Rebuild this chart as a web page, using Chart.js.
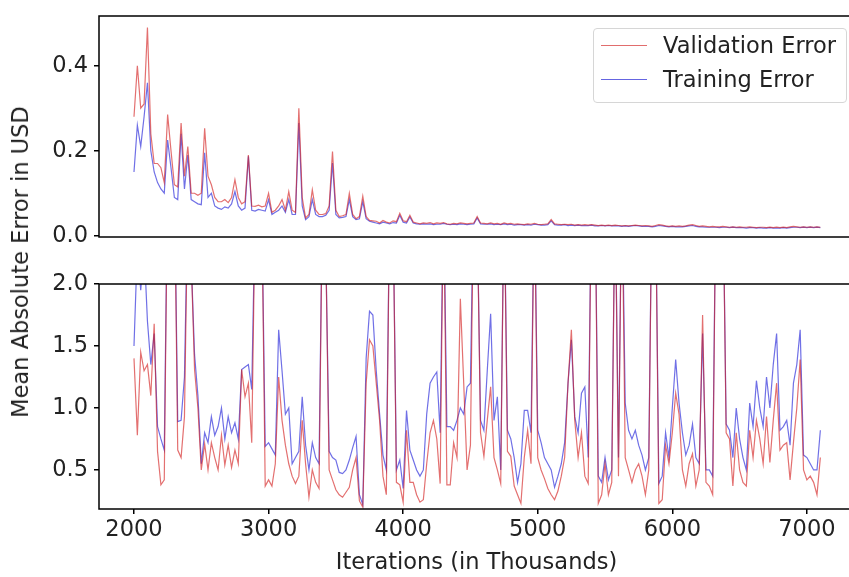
<!DOCTYPE html>
<html>
<head>
<meta charset="utf-8">
<script src="https://cdn.jsdelivr.net/npm/chart.js@4"></script>
<style>
  html, body { margin: 0; padding: 0; background: #fff; width: 849px; height: 577px; overflow: hidden; }
  #top-chart { position: absolute; left: 0; top: 0; }
  #bottom-chart { position: absolute; left: 0; top: 250px; }
  .ylabel {
    position: absolute; left: 20px; top: 262px;
    transform: translate(-50%, -50%) rotate(-90deg);
    font: 22.5px 'DejaVu Sans', sans-serif; color: #222; white-space: nowrap;
  }
  .legend {
    position: absolute; left: 593px; top: 28px; width: 254px; height: 75px;
    box-sizing: border-box; border: 1px solid #d6d6d6; border-radius: 4px;
    background: rgba(255, 255, 255, 0.85);
  }
  .legend .sw { position: absolute; left: 7px; width: 46px; height: 1.3px; }
  .legend .lt {
    position: absolute; left: 69px; font: 22.5px 'DejaVu Sans', sans-serif;
    line-height: 26px; color: #222; white-space: nowrap;
  }
</style>
</head>
<body>
<canvas id="top-chart" width="870" height="250"></canvas>
<canvas id="bottom-chart" width="870" height="327"></canvas>
<div class="ylabel">Mean Absolute Error in USD</div>
<div class="legend">
  <span class="sw" style="top:16px;background:rgba(215,60,60,0.75)"></span>
  <span class="lt" style="top:3px">Validation Error</span>
  <span class="sw" style="top:50px;background:rgba(50,50,215,0.75)"></span>
  <span class="lt" style="top:37px">Training Error</span>
</div>
<script>
// sampling grid (thousands of iterations)
const ITER_START = 2000;
const ITER_STEP = 25;

const X_TICKS = [2000, 3000, 4000, 5000, 6000, 7000];
const TOP_Y_TICKS = [0.0, 0.2, 0.4];
const BOTTOM_Y_TICKS = [0.5, 1.0, 1.5, 2.0];

// upper panel: full range
const topValidation = [
  0.280, 0.400, 0.300, 0.310, 0.490, 0.240, 0.170, 0.170, 0.160, 0.125,
  0.285, 0.200, 0.120, 0.115, 0.265, 0.140, 0.210, 0.100, 0.100, 0.095,
  0.100, 0.253, 0.140, 0.120, 0.090, 0.080, 0.080, 0.085, 0.078, 0.090,
  0.132, 0.090, 0.075, 0.080, 0.190, 0.070, 0.069, 0.072, 0.068, 0.070,
  0.100, 0.055, 0.060, 0.070, 0.085, 0.060, 0.104, 0.060, 0.055, 0.300,
  0.090, 0.042, 0.050, 0.108, 0.060, 0.050, 0.050, 0.052, 0.070, 0.198,
  0.060, 0.045, 0.047, 0.050, 0.100, 0.050, 0.040, 0.045, 0.093, 0.045,
  0.036, 0.035, 0.034, 0.030, 0.036, 0.032, 0.030, 0.035, 0.033, 0.053,
  0.035, 0.033, 0.048, 0.032, 0.030, 0.028, 0.030, 0.029, 0.031, 0.028,
  0.030, 0.029, 0.031, 0.028, 0.027, 0.029, 0.028, 0.030, 0.029, 0.028,
  0.029, 0.030, 0.045, 0.030, 0.029, 0.028, 0.030, 0.028, 0.029, 0.027,
  0.030, 0.028, 0.029, 0.027, 0.028, 0.027, 0.026, 0.028, 0.027, 0.029,
  0.027, 0.026, 0.027, 0.028, 0.038, 0.028, 0.027, 0.026, 0.027, 0.026,
  0.027, 0.025, 0.026, 0.025, 0.026, 0.025, 0.026, 0.025, 0.024, 0.025,
  0.024, 0.025, 0.024, 0.025, 0.024, 0.023, 0.024, 0.023, 0.024, 0.025,
  0.024, 0.023, 0.024, 0.023, 0.022, 0.024, 0.026, 0.025, 0.023, 0.022,
  0.023, 0.022, 0.023, 0.022, 0.023, 0.025, 0.026, 0.024, 0.022, 0.023,
  0.022, 0.021, 0.022, 0.021, 0.021, 0.022, 0.021, 0.020, 0.021, 0.020,
  0.021, 0.020, 0.020, 0.021, 0.020, 0.019, 0.020, 0.020, 0.019, 0.020,
  0.019, 0.020, 0.019, 0.020, 0.019, 0.021, 0.022, 0.021, 0.020, 0.021,
  0.020, 0.021, 0.020, 0.021, 0.020
];
const topTraining = [
  0.150, 0.260, 0.210, 0.280, 0.360, 0.200, 0.150, 0.125, 0.110, 0.100,
  0.225, 0.160, 0.090, 0.085, 0.240, 0.110, 0.190, 0.085, 0.080, 0.075,
  0.073, 0.195, 0.090, 0.100, 0.070, 0.065, 0.062, 0.068, 0.065, 0.075,
  0.104, 0.070, 0.060, 0.065, 0.187, 0.060, 0.058, 0.062, 0.060, 0.058,
  0.085, 0.050, 0.055, 0.060, 0.070, 0.055, 0.085, 0.050, 0.050, 0.265,
  0.070, 0.038, 0.045, 0.085, 0.050, 0.045, 0.045, 0.048, 0.060, 0.171,
  0.050, 0.042, 0.043, 0.045, 0.085, 0.045, 0.038, 0.040, 0.080, 0.040,
  0.034, 0.032, 0.030, 0.028, 0.032, 0.030, 0.028, 0.031, 0.030, 0.048,
  0.032, 0.030, 0.044, 0.030, 0.028, 0.027, 0.028, 0.027, 0.028, 0.026,
  0.027, 0.027, 0.029, 0.027, 0.026, 0.027, 0.026, 0.028, 0.027, 0.026,
  0.027, 0.028, 0.042, 0.028, 0.027, 0.027, 0.028, 0.026, 0.027, 0.026,
  0.028, 0.026, 0.027, 0.025, 0.026, 0.026, 0.025, 0.026, 0.025, 0.027,
  0.026, 0.025, 0.025, 0.026, 0.035, 0.026, 0.025, 0.025, 0.026, 0.024,
  0.025, 0.024, 0.025, 0.024, 0.024, 0.024, 0.025, 0.023, 0.023, 0.024,
  0.023, 0.024, 0.023, 0.023, 0.023, 0.022, 0.023, 0.022, 0.023, 0.024,
  0.023, 0.022, 0.022, 0.022, 0.021, 0.022, 0.024, 0.023, 0.022, 0.021,
  0.022, 0.021, 0.021, 0.021, 0.022, 0.023, 0.024, 0.022, 0.021, 0.021,
  0.020, 0.020, 0.020, 0.020, 0.019, 0.020, 0.020, 0.019, 0.020, 0.019,
  0.019, 0.019, 0.018, 0.019, 0.019, 0.018, 0.019, 0.018, 0.018, 0.019,
  0.018, 0.018, 0.018, 0.019, 0.018, 0.019, 0.020, 0.020, 0.019, 0.020,
  0.019, 0.020, 0.019, 0.020, 0.019
];

// lower panel: clipped at 2.0
const bottomValidation = [
  1.40, 0.78, 1.45, 1.30, 1.35, 1.10, 1.68, 0.65, 0.38, 0.42,
  2.90, 2.30, 2.90, 0.66, 0.60, 0.93, 2.70, 2.20, 1.31, 1.00,
  0.50, 0.71, 0.50, 0.72, 0.60, 0.50, 0.78, 0.54, 0.70, 0.52,
  0.66, 0.55, 1.31, 1.09, 1.20, 0.72, 2.60, 2.90, 2.60, 0.37,
  0.42, 0.37, 0.55, 1.25, 0.90, 0.70, 0.55, 0.45, 0.39, 0.45,
  0.90, 0.55, 0.28, 0.50, 0.40, 0.35, 2.70, 2.30, 0.50, 0.42,
  0.34, 0.30, 0.28, 0.32, 0.36, 0.50, 0.60, 0.25, 0.20, 1.20,
  1.55, 1.50, 1.20, 0.90, 0.45, 0.30, 2.70, 2.60, 0.40, 0.38,
  0.24, 0.82, 0.40, 0.40, 0.30, 0.24, 0.26, 0.55, 0.80, 0.90,
  0.75, 0.39, 2.80, 0.38, 0.38, 0.72, 0.60, 1.88, 1.20, 0.50,
  0.70, 2.90, 2.60, 0.80, 0.61, 0.90, 1.17, 0.60, 0.50, 0.39,
  2.80, 0.65, 0.61, 0.37, 0.30, 0.23, 0.60, 0.82, 0.55, 2.80,
  0.60, 0.50, 0.43, 0.35, 0.30, 0.26, 0.33, 0.45, 0.60, 1.20,
  1.63, 0.90, 0.60, 0.80, 0.45, 0.39, 2.90, 2.90, 0.23, 0.30,
  0.55, 0.30, 0.40, 2.80, 0.45, 2.90, 0.60, 0.50, 0.40, 0.50,
  0.55, 0.45, 0.30, 0.50, 2.90, 2.80, 0.23, 0.26, 0.70, 0.55,
  0.80, 1.12, 0.95, 0.50, 0.37, 0.55, 0.63, 0.37, 0.50, 1.75,
  0.40, 0.37, 0.30, 2.90, 2.40, 2.90, 0.80, 0.75, 0.37, 0.80,
  0.50, 0.40, 0.37, 0.82, 0.60, 0.90, 0.75, 0.55, 0.93, 0.56,
  0.90, 1.20, 0.66, 0.70, 0.72, 0.42, 0.72, 1.00, 1.39, 0.50,
  0.42, 0.45, 0.40, 0.30, 0.60
];
const bottomTraining = [
  1.50, 2.30, 1.95, 2.30, 1.70, 1.35, 1.60, 0.85, 0.75, 0.66,
  2.90, 2.30, 2.90, 0.89, 0.90, 1.25, 2.70, 2.20, 1.43, 1.10,
  0.55, 0.80, 0.72, 0.93, 0.78, 0.85, 1.00, 0.75, 0.93, 0.80,
  0.88, 0.75, 1.31, 1.33, 1.35, 1.15, 2.60, 2.90, 2.60, 0.69,
  0.72, 0.67, 0.62, 1.63, 1.30, 0.95, 1.00, 0.55, 0.60, 0.65,
  1.09, 0.70, 0.50, 0.72, 0.60, 0.55, 2.70, 2.30, 0.65, 0.60,
  0.58, 0.48, 0.47, 0.50, 0.58, 0.68, 0.77, 0.30, 0.22, 1.40,
  1.78, 1.75, 1.30, 0.95, 0.62, 0.50, 2.70, 2.60, 0.50, 0.58,
  0.35, 0.98, 0.66, 0.58, 0.50, 0.45, 0.50, 0.95, 1.20, 1.25,
  1.29, 0.80, 2.80, 0.85, 0.85, 0.82, 0.90, 1.00, 0.95, 1.17,
  1.20, 2.90, 2.60, 0.90, 0.82, 1.30, 1.76, 0.90, 1.09, 0.50,
  2.80, 0.82, 0.75, 0.60, 0.40, 0.55, 0.98, 0.98, 0.80, 2.80,
  0.82, 0.72, 0.60, 0.55, 0.50, 0.36, 0.45, 0.55, 0.72, 1.20,
  1.55, 0.93, 0.80, 1.12, 1.17, 0.60, 2.90, 2.90, 0.45, 0.40,
  0.60, 0.42, 0.50, 2.80, 0.60, 2.90, 1.04, 0.82, 0.75, 0.82,
  0.70, 0.62, 0.50, 0.60, 2.90, 2.80, 0.39, 0.45, 0.80, 0.60,
  1.00, 1.39, 1.04, 0.80, 0.62, 0.70, 0.87, 0.60, 0.55, 1.60,
  0.50, 0.50, 0.45, 2.90, 2.40, 2.90, 0.87, 0.82, 0.60, 1.00,
  0.75, 0.60, 0.50, 1.04, 0.85, 1.22, 1.00, 0.85, 1.25, 1.00,
  1.35, 1.60, 0.82, 0.85, 0.90, 0.70, 1.20, 1.35, 1.63, 0.62,
  0.60, 0.55, 0.50, 0.50, 0.82
];

const iterations = topValidation.map((_, i) => ITER_START + i * ITER_STEP);
const toPoints = vals => vals.map((v, i) => ({ x: iterations[i], y: v }));

const FONT = { family: "'DejaVu Sans', sans-serif", size: 22.5 };
const TEXT_COLOR = "#222";
const RED = "rgba(210, 25, 25, 0.62)";
const BLUE = "rgba(25, 25, 215, 0.62)";

const frame = {
  id: "frame",
  afterDatasetsDraw(chart) {
    const { ctx, chartArea: a } = chart;
    ctx.save();
    ctx.strokeStyle = "#000";
    ctx.lineWidth = 1.5;
    ctx.strokeRect(a.left, a.top, a.right - a.left, a.bottom - a.top);
    ctx.restore();
  }
};

function lineSets(red, blue) {
  return [
    { label: "Validation Error", data: toPoints(red), borderColor: RED, borderWidth: 1.2 },
    { label: "Training Error", data: toPoints(blue), borderColor: BLUE, borderWidth: 1.2 }
  ];
}

function yScale(min, max, tickValues) {
  return {
    min: min,
    max: max,
    afterBuildTicks: s => { s.ticks = tickValues.map(v => ({ value: v })); },
    afterFit: s => { s.width = 99; s.paddingTop = 0; s.paddingBottom = 0; },
    ticks: { callback: v => v.toFixed(1), font: FONT, color: TEXT_COLOR, padding: 6 },
    grid: { drawOnChartArea: false, tickLength: 5, color: "#000", lineWidth: 1.5 },
    border: { display: false }
  };
}

function xScale(show) {
  const scale = {
    type: "linear",
    min: 1740,
    max: 7350,
    display: show,
    afterBuildTicks: s => { s.ticks = X_TICKS.map(v => ({ value: v })); },
    ticks: { callback: v => String(v), font: FONT, color: TEXT_COLOR, padding: 3, maxRotation: 0, autoSkip: false },
    grid: { drawOnChartArea: false, tickLength: 5, color: "#000", lineWidth: 1.5 },
    border: { display: false },
    title: { display: true, text: "Iterations (in Thousands)", font: FONT, color: TEXT_COLOR, padding: { top: 0, bottom: 0 } }
  };
  if (show) {
    scale.afterFit = s => { s.height = 68; s.paddingLeft = 0; s.paddingRight = 0; };
  }
  return scale;
}

const common = {
  responsive: false,
  animation: false,
  elements: { point: { radius: 0 }, line: { tension: 0 } },
  plugins: { legend: { display: false }, tooltip: { enabled: false } }
};

new Chart(document.getElementById("top-chart"), {
  type: "line",
  data: { datasets: lineSets(topValidation, topTraining) },
  options: Object.assign({}, common, {
    layout: { padding: { top: 16, right: 16, bottom: 13, left: 0 } },
    scales: { x: xScale(false), y: yScale(-0.003, 0.517, TOP_Y_TICKS) }
  }),
  plugins: [frame]
});

new Chart(document.getElementById("bottom-chart"), {
  type: "line",
  data: { datasets: lineSets(bottomValidation, bottomTraining) },
  options: Object.assign({}, common, {
    layout: { padding: { top: 34, right: 16, bottom: 0, left: 0 } },
    scales: { x: xScale(true), y: yScale(0.185, 2.0, BOTTOM_Y_TICKS) }
  }),
  plugins: [frame]
});
</script>
</body>
</html>
